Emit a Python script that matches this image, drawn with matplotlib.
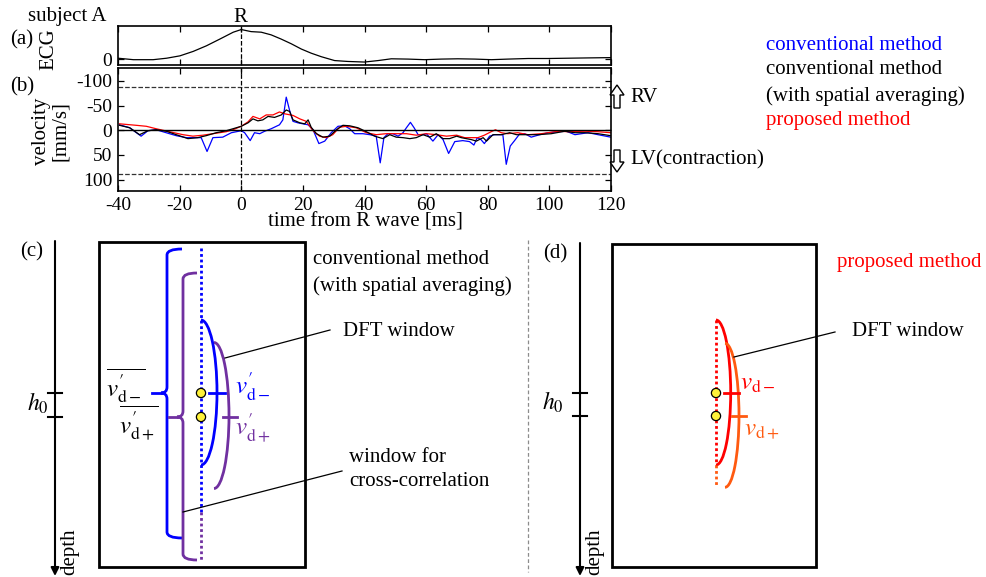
import matplotlib
matplotlib.use("Agg")
import matplotlib.pyplot as plt
from matplotlib.patches import Arc, Rectangle, Circle, FancyArrow, PathPatch
from matplotlib.path import Path

plt.rcParams['font.family'] = ['Liberation Serif', 'DejaVu Serif']
plt.rcParams['mathtext.fontset'] = 'stix'
plt.rcParams['axes.unicode_minus'] = False

# ECG trace (arbitrary units, R peak = 1)
ecg_t = [-40, -35, -28.6, -24.2, -19.9, -15.6, -11.3, -6.9, -2.6, 0, 3.2, 6.5, 9.7,
         12.9, 16.2, 19.5, 22.7, 26.0, 30.3, 34.6, 40.0, 44.4, 48.7, 54.1, 59.5,
         64.9, 70.3, 75.8, 81.2, 86.6, 93.1, 99.6, 106.1, 112.6, 120]
ecg_v = [0.03, -0.02, -0.02, 0.03, 0.11, 0.26, 0.45, 0.68, 0.91, 1.0, 0.93, 0.91, 0.82,
         0.68, 0.52, 0.34, 0.2, 0.08, -0.05, -0.08, -0.1, -0.05, 0.01, 0.0, -0.02,
         0.0, 0.01, 0.0, -0.02, 0.0, 0.02, 0.02, 0.03, 0.04, 0.05]

# conventional method
conv_t = [-39.5, -36.2, -32.5, -30.3, -27.6, -23.3, -21.1, -17.8, -15.1, -13.0, -11.1,
          -9.2, -6.0, -3.2, 0.0, 1.1, 2.9, 4.3, 6.0, 7.6, 9.7, 12.4, 13.5, 14.6, 15.7,
          16.8, 18.4, 20.0, 21.7, 23.3, 25.2, 27.1, 29.2, 31.4, 33.5, 35.2, 36.8, 39.5,
          41.7, 43.8, 45.1, 46.3, 47.6, 49.2, 50.9, 52.5, 53.6, 54.9, 56.1, 57.4, 59.0,
          60.1, 62.2, 63.9, 65.5, 67.3, 69.3, 71.9, 74.1, 75.5, 76.6, 77.8, 78.9, 80.6,
          82.2, 84.9, 86.0, 87.3, 88.7, 90.4, 92.0, 94.1, 96.3, 99.6, 102.8, 105.5,
          108.3, 110.4, 112.6, 115.8, 119.9]
conv_v = [-11, -5, 12, 1, -1, 7, 11, 15, 15, 15, 43,
          15, 14, 5, 1, 5, 21, 5, 7, 2, -3, -11, -21, -67, -40,
          -18, -15, -13, -11, -1, 27, 22, 5, -8, -9, -3, 7, 7,
          9, 12, 66, 15, 7, 7, 12, 5, -5, -16, -5, 9, 9,
          7, 22, 9, 19, 47, 23, 21, 23, 30, 15, 19, 27, 12,
          9, 9, 69, 32, 21, 7, 7, 14, 10, 5, 3, 2,
          9, 7, 5, 9, 14]

# conventional method with spatial averaging
avg_t = [-39.5, -36.2, -33.0, -30.3, -27.6, -24.3, -21.1, -17.3, -14.1, -11.4, -8.1,
         -4.9, -2.7, 0.0, 2.2, 3.8, 5.4, 7.0, 8.7, 10.8, 13.0, 14.6, 15.7, 16.8, 19.0,
         20.6, 21.7, 22.7, 24.4, 26.5, 28.7, 30.9, 33.0, 35.2, 37.9, 40.6, 43.3, 46.0,
         48.2, 50.3, 52.5, 54.7, 56.8, 59.0, 61.2, 63.3, 65.5, 67.6, 69.9, 71.4, 74.7,
         76.3, 78.5, 79.6, 81.7, 84.4, 87.1, 89.3, 92.0, 96.3, 100.6, 105.0, 108.3,
         111.5, 115.8, 119.9]
avg_v = [-10, -5, 9, 1, -1, 2, 9, 17, 15, 11, 5,
         1, -3, -8, -15, -23, -19, -21, -28, -26, -31, -41, -38, -21, -15,
         -13, -21, -6, 7, 14, 12, -1, -10, -9, -5, 3, 12, 17,
         9, 14, 15, 17, 15, 9, 14, 7, 17, 17, 12, 15, 19,
         22, 15, 22, 9, 9, 5, 9, 9, 9, 7, 2, 5,
         5, 7, 11]

# proposed method
prop_t = [-39.5, -34.1, -30.8, -27.6, -23.3, -18.9, -15.7, -12.4, -9.2, -4.9, -2.7,
          0.0, 2.2, 3.8, 6.0, 8.1, 10.3, 12.4, 14.3, 16.8, 19.0, 21.1, 23.3, 25.4,
          27.6, 29.7, 31.9, 34.1, 37.3, 40.6, 43.8, 47.0, 50.3, 53.6, 56.8, 60.1, 63.3,
          66.6, 69.9, 72.5, 76.8, 78.9, 81.1, 82.5, 84.4, 86.5, 89.8, 93.1, 97.4,
          102.8, 106.1, 111.5, 115.8, 119.9]
prop_v = [-13, -10, -8, -3, 3, 9, 12, 10, 7, 3, -1,
          -8, -17, -28, -23, -31, -31, -37, -33, -30, -23, -18, 1, 12,
          15, 9, -6, -8, -5, 5, 9, 7, 7, 7, 10, 7, 9,
          12, 10, 15, 15, 10, 3, -1, 5, 7, 5, 9, 7,
          2, 3, 2, 3, 5]

x_ticks = [-40, -20, 0, 20, 40, 60, 80, 100, 120]
v_ticks = [-100, -50, 0, 50, 100]
nyquist = 88

W, H = 986, 577
BLUE = '#0000FF'
PURPLE = '#7030A0'
RED = '#FF0000'
ORANGE = '#FF5A10'
YELLOW = '#FFF23A'


def px_axes(fig, left, top, right, bottom):
    return fig.add_axes([left / W, 1 - bottom / H, (right - left) / W, (bottom - top) / H])


def style_axes(ax):
    ax.tick_params(direction='in', top=True, right=True, length=4, width=0.9,
                   labelsize=14, pad=4)
    for s in ax.spines.values():
        s.set_linewidth(1.2)


fig = plt.figure(figsize=(W / 100, H / 100), dpi=100)

# (a) ECG
ax_ecg = px_axes(fig, 118, 26, 611, 65)
ax_ecg.plot(ecg_t, ecg_v, color='black', lw=0.9)
ax_ecg.axvline(0, color='black', ls='--', lw=0.9)
ax_ecg.set_xlim(-40, 120)
ax_ecg.set_ylim(-0.2, 1.12)
ax_ecg.set_xticks(x_ticks)
ax_ecg.set_xticklabels([])
ax_ecg.set_yticks([0])
style_axes(ax_ecg)

# (b) velocity
ax_v = px_axes(fig, 118, 68, 611, 191)
ax_v.plot(conv_t, conv_v, color=BLUE, lw=0.9)
ax_v.plot(prop_t, prop_v, color=RED, lw=0.9)
ax_v.plot(avg_t, avg_v, color='black', lw=0.9)
ax_v.axhline(0, color='black', lw=1.0)
for lvl in (-nyquist, nyquist):
    ax_v.axhline(lvl, color='#333333', ls='--', lw=0.9)
ax_v.axvline(0, color='black', ls='--', lw=0.9)
ax_v.set_xlim(-40, 120)
ax_v.set_ylim(123, -126)
ax_v.set_xticks(x_ticks)
ax_v.set_yticks(v_ticks)
style_axes(ax_v)

# overlay in pixel coordinates for labels and the two schematics
ov = fig.add_axes([0, 0, 1, 1])
ov.set_xlim(0, W)
ov.set_ylim(H, 0)
ov.axis('off')

fs = 15
ov.text(67, 16, "subject A", fontsize=fs, ha='center', va='center')
ov.text(240, 17, "R", fontsize=fs, ha='center', va='center')
ov.text(22, 40, "(a)", fontsize=fs, ha='center', va='center')
ov.text(49, 49, "ECG", fontsize=fs, rotation=90, ha='center', va='center')
ov.text(22, 87, "(b)", fontsize=fs, ha='center', va='center')
ov.text(51, 131, "velocity\n[mm/s]", fontsize=fs, rotation=90, ha='center', va='center',
        multialignment='center', linespacing=1.05)
ov.text(365, 222, "time from R wave [ms]", fontsize=fs, ha='center', va='center')

# ventricle direction arrows
ov.add_patch(FancyArrow(617, 108, 0, -23, width=6, head_width=14, head_length=10,
                        length_includes_head=True, fc='white', ec='black', lw=1))
ov.add_patch(FancyArrow(617, 150, 0, 22, width=6, head_width=14, head_length=10,
                        length_includes_head=True, fc='white', ec='black', lw=1))
ov.text(630, 98, "RV", fontsize=fs, va='center')
ov.text(630, 160, "LV(contraction)", fontsize=fs, va='center')

ov.text(766, 45, "conventional method", fontsize=fs, color=BLUE, va='center')
ov.text(766, 70, "conventional method", fontsize=fs, va='center')
ov.text(766, 96, "(with spatial averaging)", fontsize=fs, va='center')
ov.text(766, 121, "proposed method", fontsize=fs, color=RED, va='center')


def brace(x, top, mid, bot, tip, lead, color):
    r = 6
    verts = [(x + tip, top), (x, top), (x, top + r),
             (x, mid - r), (x, mid), (x - r, mid),
             (x, mid), (x, mid + r),
             (x, bot - r), (x, bot), (x + tip, bot)]
    codes = [Path.MOVETO, Path.CURVE3, Path.CURVE3,
             Path.LINETO, Path.CURVE3, Path.CURVE3,
             Path.CURVE3, Path.CURVE3,
             Path.LINETO, Path.CURVE3, Path.CURVE3]
    ov.add_patch(PathPatch(Path(verts, codes), fc='none', ec=color, lw=2))
    ov.plot([lead, x - r], [mid, mid], color=color, lw=2)


def depth_axis(x, top, h0_top, h0_bot, label_x):
    ov.annotate('', xy=(x, 576), xytext=(x, top),
                arrowprops=dict(arrowstyle='-|>', color='black', lw=1.5,
                                mutation_scale=12, shrinkA=0, shrinkB=0))
    for y in (h0_top, h0_bot):
        ov.plot([x - 7, x + 7], [y, y], color='black', lw=1.5)
    ov.text(label_x, (h0_top + h0_bot) / 2 - 2, r"$h_0$", fontsize=17,
            ha='center', va='center')
    ov.text(x + 15, 552, "depth", fontsize=fs, rotation=90, ha='center', va='center')


def window_arc(cx, cy, half_w, half_h, color):
    ov.add_patch(Arc((cx, cy), 2 * half_w, 2 * half_h, theta1=-90, theta2=90,
                     color=color, lw=2))


def dot(x, y):
    ov.add_patch(Circle((x, y), 4.6, fc=YELLOW, ec='black', lw=0.9, zorder=5))


# (c) conventional method with spatial averaging
ov.text(32, 252, "(c)", fontsize=fs, ha='center', va='center')
depth_axis(55, 241, 393, 417, 38)
ov.add_patch(Rectangle((99, 242), 206, 325, fc='none', ec='black', lw=2))
ov.plot([201, 201], [248, 512], color=BLUE, lw=2, ls=(0, (1, 1)))
ov.plot([201, 201], [512, 560], color=PURPLE, lw=2, ls=(0, (1, 1)))
brace(167, 249, 393, 538, 15, 152, BLUE)
brace(183, 273, 417, 560, 14, 169, PURPLE)
window_arc(201, 392.5, 16, 72.5, BLUE)
window_arc(214, 415.5, 15, 73, PURPLE)
ov.plot([209, 225], [393, 393], color=BLUE, lw=2)
ov.plot([223, 237], [417, 417], color=PURPLE, lw=2)
dot(201, 393)
dot(201, 417)
ov.text(235, 387, r"$v_{\mathrm{d}-}^{\prime}$", fontsize=18, color=BLUE, va='center')
ov.text(235, 428, r"$v_{\mathrm{d}+}^{\prime}$", fontsize=18, color=PURPLE, va='center')
ov.text(126, 386, r"$\overline{v_{\mathrm{d}-}^{\prime}}$", fontsize=18,
        ha='center', va='center')
ov.text(139, 423, r"$\overline{v_{\mathrm{d}+}^{\prime}}$", fontsize=18,
        ha='center', va='center')
ov.plot([225, 330], [358, 330], color='black', lw=0.9)
ov.plot([183, 342], [512, 471], color='black', lw=0.9)
ov.text(313, 260, "conventional method", fontsize=fs, va='center')
ov.text(313, 286, "(with spatial averaging)", fontsize=fs, va='center')
ov.text(343, 332, "DFT window", fontsize=fs, va='center')
ov.text(349, 457, "window for", fontsize=fs, va='center')
ov.text(349, 482, "cross-correlation", fontsize=fs, va='center')

ov.plot([528, 528], [240, 572], color='#8c8c8c', lw=0.9, ls=(0, (3, 2)))

# (d) proposed method
ov.text(555, 254, "(d)", fontsize=fs, ha='center', va='center')
depth_axis(580, 243, 393, 416, 553)
ov.add_patch(Rectangle((612, 244), 204, 323, fc='none', ec='black', lw=2))
ov.plot([716, 716], [320, 465], color=RED, lw=2, ls=(0, (1, 1)))
ov.plot([716, 716], [465, 487], color=ORANGE, lw=2, ls=(0, (1, 1)))
window_arc(716, 392.5, 14.7, 72.5, RED)
window_arc(725, 415.3, 14, 72, ORANGE)
ov.plot([724, 739], [393, 393], color=RED, lw=2)
ov.plot([732, 746], [416, 416], color=ORANGE, lw=2)
dot(716, 393)
dot(716, 416)
ov.text(740, 384, r"$v_{\mathrm{d}-}$", fontsize=18, color=RED, va='center')
ov.text(744, 430, r"$v_{\mathrm{d}+}$", fontsize=18, color=ORANGE, va='center')
ov.plot([734, 835], [357, 332], color='black', lw=0.9)
ov.text(852, 331, "DFT window", fontsize=fs, va='center')
ov.text(837, 262, "proposed method", fontsize=fs, color=RED, va='center')

fig.savefig("out.png", dpi=100)
